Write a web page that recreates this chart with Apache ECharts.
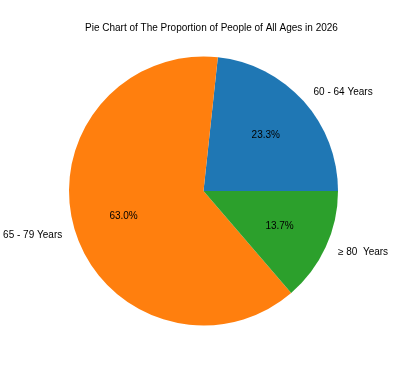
<!DOCTYPE html>
<html>
<head>
<meta charset="utf-8">
<script src="https://cdn.jsdelivr.net/npm/echarts@6/dist/echarts.min.js"></script>
<style>html,body{margin:0;padding:0;background:#fff}#c{width:399px;height:368px}</style>
</head>
<body>
<div id="c"></div>
<script>
const categories = ['60 - 64 Years', '65 - 79 Years', '\u2265 80  Years'];
const values = [23.3, 63.0, 13.7];
const colors = ['#1f77b4', '#ff7f0e', '#2ca02c'];
const titleText = 'Pie Chart of The Proportion of People of All Ages in 2026';

const chart = echarts.init(document.getElementById('c'), null, {renderer: 'canvas'});
const R = 134.5;
const center = [203.5, 191];
const font = 'Liberation Sans, Arial, sans-serif';
const data = categories.map((n, i) => ({name: n, value: values[i], itemStyle: {color: colors[i]}}));
chart.setOption({
  animation: false,
  title: {
    text: titleText, left: 80, top: 18, padding: 5,
    textStyle: {fontFamily: font, fontSize: 10, fontWeight: 'normal', color: '#000'}
  },
  series: [
    {
      type: 'pie', center: center, radius: [0, R], startAngle: 0, clockwise: false,
      data: data, silent: true,
      label: {
        show: true, position: 'outside', formatter: '{b}', distanceToLabelLine: 0,
        overflow: 'none', alignTo: 'none',
        fontFamily: font, fontSize: 10, color: '#000'
      },
      labelLine: {show: false, length: R * 0.1, length2: 0},
      labelLayout: {hideOverlap: false},
      emphasis: {disabled: true}
    },
    {
      type: 'pie', center: center, radius: [0, R * 1.2], startAngle: 0, clockwise: false,
      data: categories.map((n, i) => ({name: n, value: values[i]})), silent: true,
      itemStyle: {color: 'rgba(0,0,0,0)'},
      label: {
        show: true, position: 'inside',
        formatter: p => p.value.toFixed(1) + '%',
        fontFamily: font, fontSize: 10, color: '#000'
      },
      labelLine: {show: false},
      emphasis: {disabled: true}
    }
  ]
});
</script>
</body>
</html>
